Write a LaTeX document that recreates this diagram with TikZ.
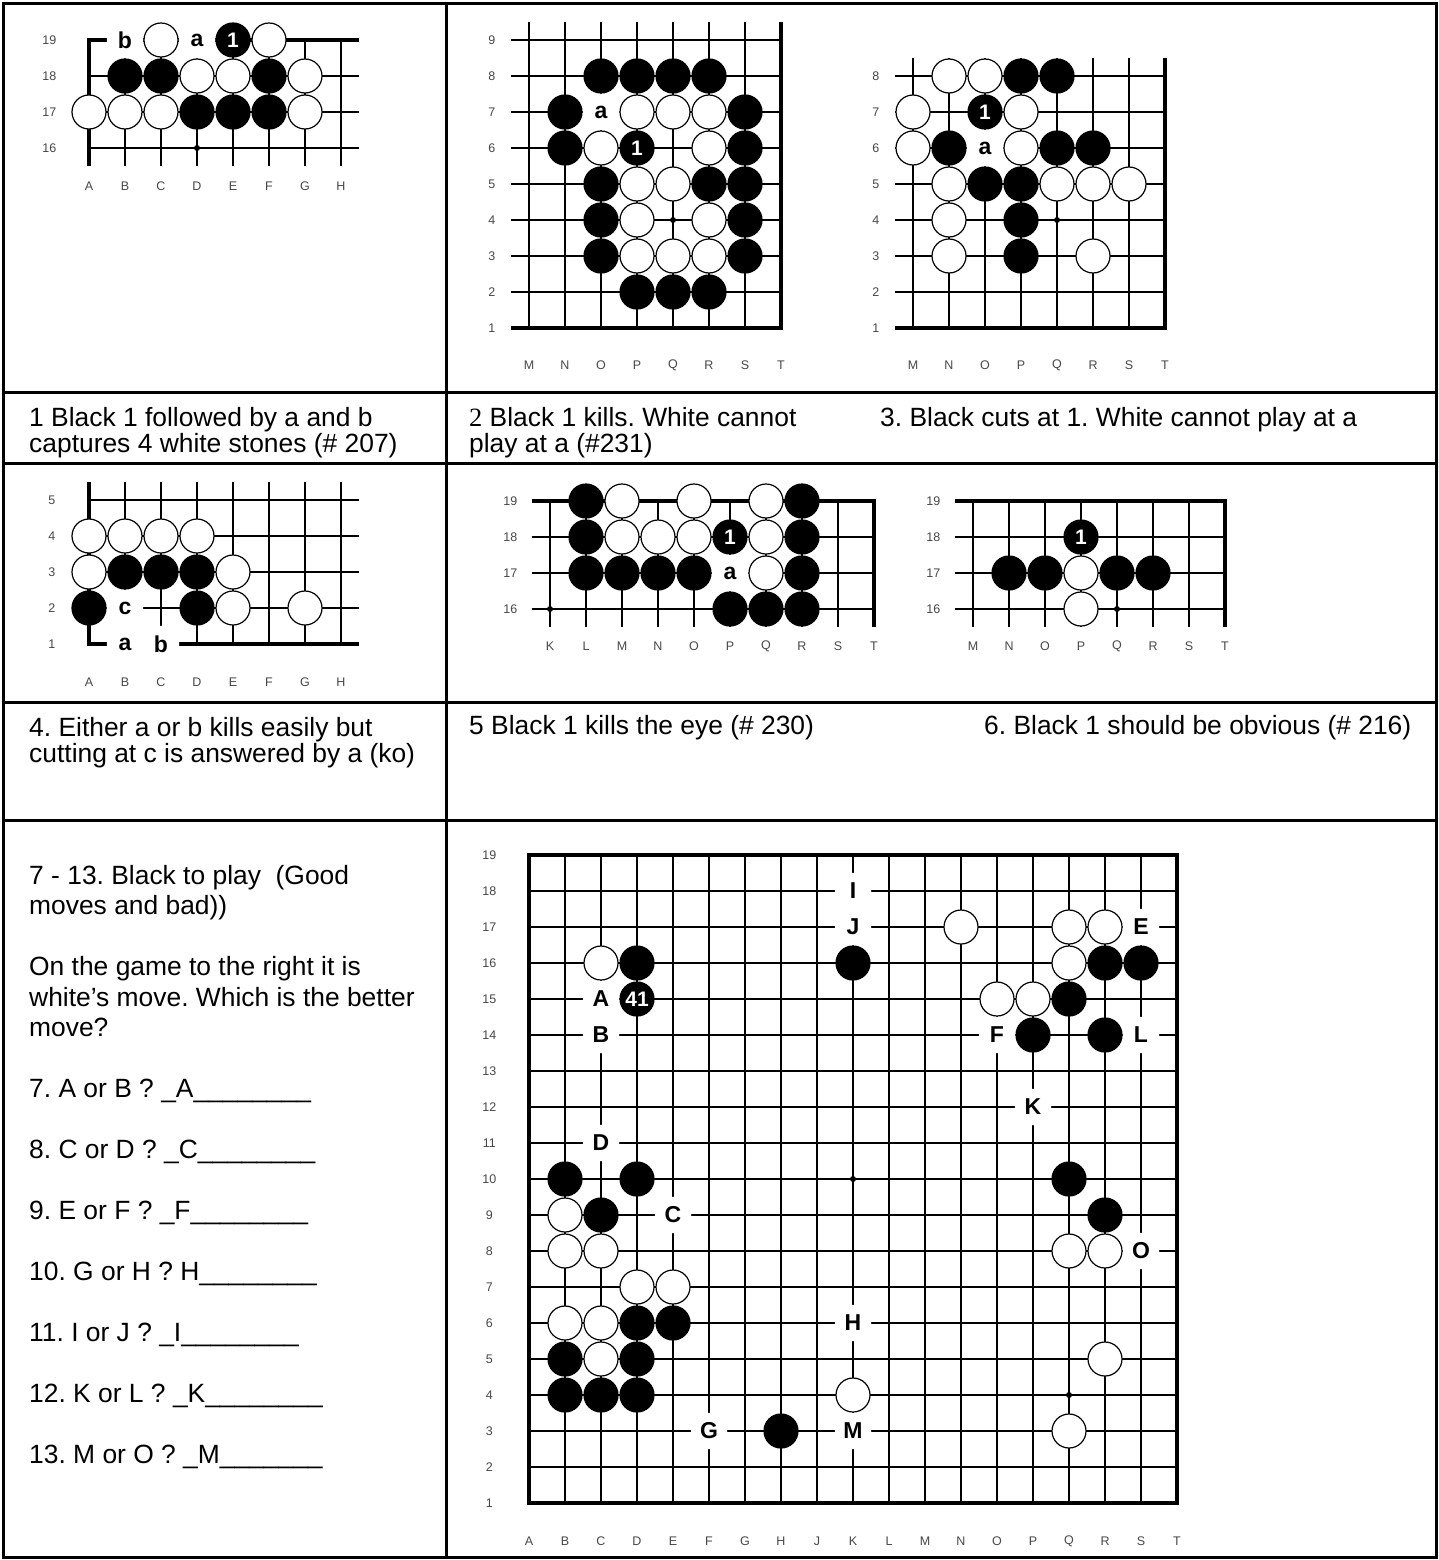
\documentclass[tikz,border=0pt]{standalone}
\usepackage{fontspec}
\setmainfont{Liberation Sans}
\newfontfamily\serifnum{Liberation Serif}
\frenchspacing

\tikzset{
  gridline/.style={line width=1.3pt},
  boardedge/.style={line width=3.4pt,line join=miter},
  wstone/.style={circle,draw=black,fill=white,line width=1.2pt,minimum size=34pt,inner sep=0pt},
  bstone/.style={circle,draw=black,fill=black,line width=1.2pt,minimum size=34pt,inner sep=0pt,
    text=white,font=\fontsize{21}{21}\selectfont\bfseries},
  ptlabel/.style={circle,fill=white,minimum size=36.5pt,inner sep=0pt,font=\fontsize{23}{23}\selectfont\bfseries},
  coordlbl/.style={text=black!72,inner sep=0pt,font=\fontsize{12.5}{12.5}\selectfont},
  captxt/.style={anchor=base west,inner sep=0pt,font=\fontsize{26.4}{30}\selectfont},
  tableline/.style={line width=3pt}
}

\begin{document}
\begin{tikzpicture}[x=1pt,y=-1pt]
  \useasboundingbox (0,0) rectangle (1439,1560);
  % table frame
  \draw[tableline] (3,4) rectangle (1436,1557);
  \draw[tableline] (446,4) -- (446,1557);
  \foreach \y in {392,463,702,820}
    \draw[tableline] (3,\y) -- (1436,\y);

  % problem 1 (top left corner, A-H)
  \begin{scope}[shift={(89,724)},x=36pt,y=36pt]
    \foreach \i in {1,...,7} \draw[gridline] (\i,15.5) -- (\i,19);
    \foreach \r in {16,17,18} \draw[gridline] (0,\r) -- (7.5,\r);
    \draw[boardedge] (0,15.5) -- (0,19) -- (7.5,19);
    \fill (3,16) circle (3pt);
    \foreach \i/\r in {2/19,5/19,3/18,4/18,6/18,0/17,1/17,2/17,6/17}
      \node[wstone] (pa-w\i-\r) at (\i,\r) {};
    \foreach \i/\r in {1/18,2/18,5/18,3/17,4/17,5/17}
      \node[bstone] (pa-b\i-\r) at (\i,\r) {};
    \node[bstone] (pa-one) at (4,19) {1};
    \node[ptlabel] (pa-a) at (3,19) {a};
    \node[ptlabel] (pa-b) at (1,19) {b};
    \foreach \r in {16,...,19} \node[coordlbl] (pa-r\r) at (-1.1,\r) {\r};
    \foreach \l [count=\i from 0] in {A,B,C,D,E,F,G,H}
      \node[coordlbl] (pa-c\i) at (\i,14.94) {\l};
  \end{scope}

  % problem 2 (lower right corner, M-T)
  \begin{scope}[shift={(529,364)},x=36pt,y=36pt]
    \foreach \i in {0,...,6} \draw[gridline] (\i,1) -- (\i,9.5);
    \foreach \r in {2,...,9} \draw[gridline] (-0.5,\r) -- (7,\r);
    \draw[boardedge] (-0.5,1) -- (7,1) -- (7,9.5);
    \fill (4,4) circle (3pt);
    \foreach \i/\r in {2/8,3/8,4/8,5/8,1/7,6/7,1/6,6/6,2/5,5/5,6/5,2/4,6/4,2/3,6/3,3/2,4/2,5/2}
      \node[bstone] (pb-b\i-\r) at (\i,\r) {};
    \foreach \i/\r in {3/7,4/7,5/7,2/6,5/6,3/5,4/5,3/4,5/4,3/3,4/3,5/3}
      \node[wstone] (pb-w\i-\r) at (\i,\r) {};
    \node[bstone] (pb-one) at (3,6) {1};
    \node[ptlabel] (pb-a) at (2,7) {a};
    \foreach \r in {1,...,9} \node[coordlbl] (pb-r\r) at (-1.03,\r) {\r};
    \foreach \l [count=\i from 0] in {M,N,O,P,Q,R,S,T}
      \node[coordlbl] (pb-c\i) at (\i,-0.04) {\l};
  \end{scope}

  % problem 3 (lower right corner, M-T)
  \begin{scope}[shift={(913,364)},x=36pt,y=36pt]
    \foreach \i in {0,...,6} \draw[gridline] (\i,1) -- (\i,8.5);
    \foreach \r in {2,...,8} \draw[gridline] (-0.5,\r) -- (7,\r);
    \draw[boardedge] (-0.5,1) -- (7,1) -- (7,8.5);
    \fill (4,4) circle (3pt);
    \foreach \i/\r in {1/8,2/8,0/7,3/7,0/6,3/6,1/5,4/5,5/5,6/5,1/4,1/3,5/3}
      \node[wstone] (pc-w\i-\r) at (\i,\r) {};
    \foreach \i/\r in {3/8,4/8,1/6,4/6,5/6,2/5,3/5,3/4,3/3}
      \node[bstone] (pc-b\i-\r) at (\i,\r) {};
    \node[bstone] (pc-one) at (2,7) {1};
    \node[ptlabel] (pc-a) at (2,6) {a};
    \foreach \r in {1,...,8} \node[coordlbl] (pc-r\r) at (-1.03,\r) {\r};
    \foreach \l [count=\i from 0] in {M,N,O,P,Q,R,S,T}
      \node[coordlbl] (pc-c\i) at (\i,-0.04) {\l};
  \end{scope}

  % problem 4 (lower left corner, A-H)
  \begin{scope}[shift={(89,680)},x=36pt,y=36pt]
    \foreach \i in {1,...,7} \draw[gridline] (\i,1) -- (\i,5.5);
    \foreach \r in {2,...,5} \draw[gridline] (0,\r) -- (7.5,\r);
    \draw[boardedge] (0,5.5) -- (0,1) -- (7.5,1);
    \foreach \i/\r in {0/4,1/4,2/4,3/4,0/3,4/3,4/2,6/2}
      \node[wstone] (pd-w\i-\r) at (\i,\r) {};
    \foreach \i/\r in {1/3,2/3,3/3,0/2,3/2}
      \node[bstone] (pd-b\i-\r) at (\i,\r) {};
    \node[ptlabel] (pd-c) at (1,2) {c};
    \node[ptlabel] (pd-a) at (1,1) {a};
    \node[ptlabel] (pd-b) at (2,1) {b};
    \foreach \r in {1,...,5} \node[coordlbl] (pd-r\r) at (-1.03,\r) {\r};
    \foreach \l [count=\i from 0] in {A,B,C,D,E,F,G,H}
      \node[coordlbl] (pd-c\i) at (\i,-0.06) {\l};
  \end{scope}

  % problem 5 (upper right corner, K-T)
  \begin{scope}[shift={(550,1185)},x=36pt,y=36pt]
    \foreach \i in {0,...,8} \draw[gridline] (\i,15.5) -- (\i,19);
    \foreach \r in {16,17,18} \draw[gridline] (-0.5,\r) -- (9,\r);
    \draw[boardedge] (-0.5,19) -- (9,19) -- (9,15.5);
    \fill (0,16) circle (3pt);
    \foreach \i/\r in {1/19,7/19,1/18,7/18,1/17,2/17,3/17,4/17,7/17,5/16,6/16,7/16}
      \node[bstone] (pe-b\i-\r) at (\i,\r) {};
    \foreach \i/\r in {2/19,4/19,6/19,2/18,3/18,4/18,6/18,6/17}
      \node[wstone] (pe-w\i-\r) at (\i,\r) {};
    \node[bstone] (pe-one) at (5,18) {1};
    \node[ptlabel] (pe-a) at (5,17) {a};
    \foreach \r in {16,...,19} \node[coordlbl] (pe-r\r) at (-1.1,\r) {\r};
    \foreach \l [count=\i from 0] in {K,L,M,N,O,P,Q,R,S,T}
      \node[coordlbl] (pe-c\i) at (\i,14.97) {\l};
  \end{scope}

  % problem 6 (upper right corner, M-T)
  \begin{scope}[shift={(973,1185)},x=36pt,y=36pt]
    \foreach \i in {0,...,6} \draw[gridline] (\i,15.5) -- (\i,19);
    \foreach \r in {16,17,18} \draw[gridline] (-0.5,\r) -- (7,\r);
    \draw[boardedge] (-0.5,19) -- (7,19) -- (7,15.5);
    \fill (4,16) circle (3pt);
    \foreach \i/\r in {1/17,2/17,4/17,5/17}
      \node[bstone] (pf-b\i-\r) at (\i,\r) {};
    \foreach \i/\r in {3/17,3/16}
      \node[wstone] (pf-w\i-\r) at (\i,\r) {};
    \node[bstone] (pf-one) at (3,18) {1};
    \foreach \r in {16,...,19} \node[coordlbl] (pf-r\r) at (-1.1,\r) {\r};
    \foreach \l [count=\i from 0] in {M,N,O,P,Q,R,S,T}
      \node[coordlbl] (pf-c\i) at (\i,14.97) {\l};
  \end{scope}

  % whole game, white to move
  \begin{scope}[shift={(529,1539)},x=36pt,y=36pt]
    \foreach \i in {1,...,17} \draw[gridline] (\i,1) -- (\i,19);
    \foreach \r in {2,...,18} \draw[gridline] (0,\r) -- (18,\r);
    \draw[boardedge] (0,1) rectangle (18,19);
    \foreach \i in {3,9,15} \foreach \r in {4,10,16} \fill (\i,\r) circle (3pt);
    \foreach \i/\r in {2/16,12/17,15/17,16/17,15/16,13/15,14/15,1/9,1/8,2/8,3/7,4/7,
                       1/6,2/6,2/5,9/4,15/8,16/8,16/5,15/3}
      \node[wstone] (g-w\i-\r) at (\i,\r) {};
    \foreach \i/\r in {3/16,9/16,16/16,17/16,15/15,14/14,16/14,1/10,3/10,2/9,3/6,4/6,
                       1/5,3/5,1/4,2/4,3/4,7/3,15/10,16/9}
      \node[bstone] (g-b\i-\r) at (\i,\r) {};
    \node[bstone] (g-41) at (3,15) {41};
    \foreach \l/\i/\r in {A/2/15,B/2/14,D/2/11,C/4/9,G/5/3,M/9/3,H/9/6,I/9/18,J/9/17,
                          E/17/17,F/13/14,L/17/14,K/14/12,O/17/8}
      \node[ptlabel] (g-\l) at (\i,\r) {\l};
    \foreach \r in {1,...,19} \node[coordlbl] (g-r\r) at (-1.1,\r) {\r};
    \foreach \l [count=\i from 0] in {A,B,C,D,E,F,G,H,J,K,L,M,N,O,P,Q,R,S,T}
      \node[coordlbl] (g-c\i) at (\i,-0.06) {\l};
  \end{scope}

  % captions, first row
  \node[captxt] (cap1a) at (29,426) {1 Black 1 followed by a and b};
  \node[captxt] (cap1b) at (29,452) {captures 4 white stones (\# 207)};
  \node[captxt] (cap2a) at (469,426) {{\serifnum 2} Black 1 kills. White cannot};
  \node[captxt] (cap2b) at (469,452) {play at a (\#231)};
  \node[captxt] (cap3) at (880,426) {3. Black cuts at 1. White cannot play at a};
  % captions, second row
  \node[captxt] (cap4a) at (29,736) {4. Either a or b kills easily but};
  \node[captxt] (cap4b) at (29,762) {cutting at c is answered by a (ko)};
  \node[captxt] (cap5) at (469,734) {5 Black 1 kills the eye (\# 230)};
  \node[captxt] (cap6) at (984,734) {6. Black 1 should be obvious (\# 216)};
  % questions 7 - 13
  \node[captxt] (q-head) at (29,884) {7 - 13. Black to play\ \ (Good};
  \node[captxt] (q-head2) at (29,914.5) {moves and bad))};
  \node[captxt] (q-intro) at (29,975.5) {On the game to the right it is};
  \node[captxt] (q-intro2) at (29,1006) {white’s move. Which is the better};
  \node[captxt] (q-intro3) at (29,1036.5) {move?};
  \node[captxt] (q7) at (29,1097) {7. A or B ? \_A\_\_\_\_\_\_\_\_};
  \node[captxt] (q8) at (29,1158) {8. C or D ? \_C\_\_\_\_\_\_\_\_};
  \node[captxt] (q9) at (29,1219) {9. E or F ? \_F\_\_\_\_\_\_\_\_};
  \node[captxt] (q10) at (29,1280) {10. G or H ? H\_\_\_\_\_\_\_\_};
  \node[captxt] (q11) at (29,1341) {11. I or J ? \_I\_\_\_\_\_\_\_\_};
  \node[captxt] (q12) at (29,1402) {12. K or L ? \_K\_\_\_\_\_\_\_\_};
  \node[captxt] (q13) at (29,1463) {13. M or O ? \_M\_\_\_\_\_\_\_};
\end{tikzpicture}
\end{document}
